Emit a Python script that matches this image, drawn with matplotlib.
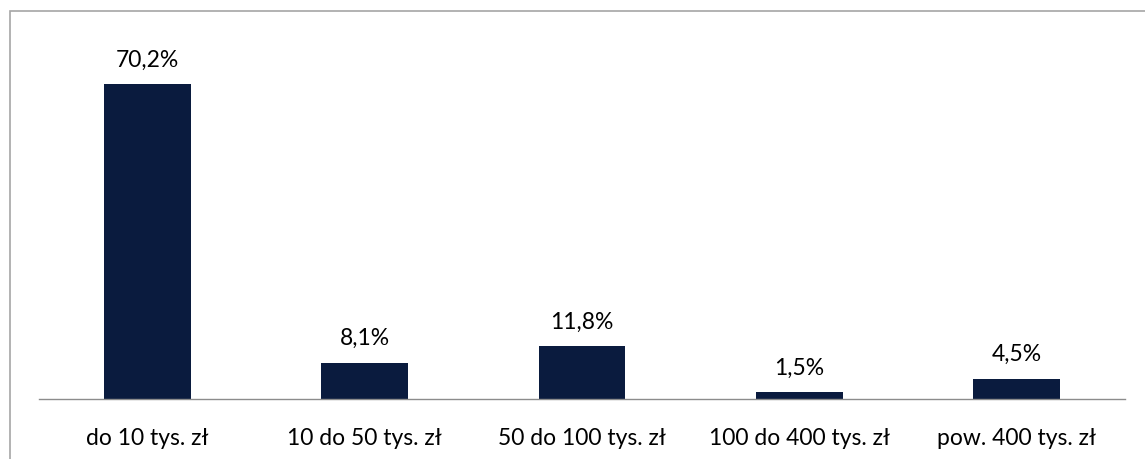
import matplotlib
matplotlib.use("Agg")
import matplotlib.pyplot as plt
from matplotlib.patches import Rectangle

categories = ["do 10 tys. zł", "10 do 50 tys. zł", "50 do 100 tys. zł", "100 do 400 tys. zł", "pow. 400 tys. zł"]
values = [70.2, 8.1, 11.8, 1.5, 4.5]
value_labels = ["70,2%", "8,1%", "11,8%", "1,5%", "4,5%"]

W, H = 1145, 460
fig = plt.figure(figsize=(W / 100, H / 100), dpi=100)
plt.rcParams['font.family'] = ['Lato', 'DejaVu Sans']

ax = fig.add_axes([39 / W, (H - 400) / H, (1125 - 39) / W, (400 - 41) / H])
x = list(range(len(categories)))
ax.bar(x, values, width=0.4, color="#0a1b3e")
ax.set_xlim(-0.5, len(categories) - 0.5)
ax.set_ylim(0, 80)
for xi, v, lab in zip(x, values, value_labels):
    ax.annotate(lab, (xi, v), xytext=(0, 25), textcoords="offset pixels",
                ha="center", va="center", fontsize=16.5, color="#000000")
ax.set_xticks(x)
ax.set_xticklabels(categories, fontsize=16.5)
ax.tick_params(axis="x", length=0, pad=20)
ax.set_yticks([])
for s in ["top", "right", "left"]:
    ax.spines[s].set_visible(False)
ax.spines["bottom"].set_color("#8c8c8c")
ax.spines["bottom"].set_linewidth(1)

border = Rectangle((9.5 / W, -0.1), 1.2, (H - 11.5) / H + 0.1, transform=fig.transFigure,
                   fill=False, edgecolor="#a6a6a6", linewidth=1.2)
fig.add_artist(border)

fig.savefig("out.png", dpi=100)
